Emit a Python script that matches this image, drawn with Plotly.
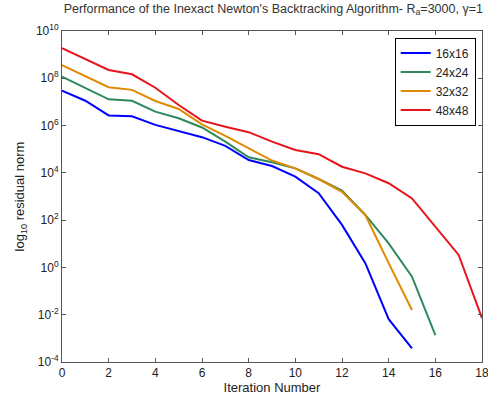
import plotly.graph_objects as go

iterations_16 = list(range(0, 16))
iterations_24 = list(range(0, 17))
iterations_32 = list(range(0, 16))
iterations_48 = list(range(0, 19))

log_res_16 = [7.48, 7.05, 6.43, 6.39, 6.03, 5.77, 5.51, 5.14, 4.54, 4.29, 3.84, 3.14, 1.80, 0.18, -2.19, -3.42]
log_res_24 = [8.07, 7.60, 7.11, 7.05, 6.59, 6.31, 5.92, 5.32, 4.66, 4.45, 4.19, 3.74, 3.25, 2.22, 1.02, -0.39, -2.86]
log_res_32 = [8.56, 8.10, 7.62, 7.51, 7.04, 6.70, 6.05, 5.56, 5.04, 4.52, 4.19, 3.74, 3.20, 2.22, 0.18, -1.80]
log_res_48 = [9.27, 8.80, 8.35, 8.17, 7.60, 6.87, 6.21, 5.95, 5.72, 5.32, 4.97, 4.79, 4.26, 3.98, 3.56, 2.92, 1.72, 0.53, -2.15]

series_names = ["16x16", "24x24", "32x32", "48x48"]
series_colors = ["#0000ff", "#2e8a5c", "#e08a00", "#e8141b"]

xtick_vals = [0, 2, 4, 6, 8, 10, 12, 14, 16, 18]
ytick_exps = [-4, -2, 0, 2, 4, 6, 8, 10]

fig = go.Figure()
for name, color, xs, ls in zip(series_names, series_colors,
                               [iterations_16, iterations_24, iterations_32, iterations_48],
                               [log_res_16, log_res_24, log_res_32, log_res_48]):
    fig.add_trace(go.Scatter(x=xs, y=[10 ** v for v in ls], mode="lines", name=name,
                             line=dict(color=color, width=2), cliponaxis=True))

font = dict(family="Liberation Sans, Arial, sans-serif", size=11, color="#222222")
fig.update_layout(
    width=488, height=402,
    margin=dict(l=62, r=6, t=31, b=40, autoexpand=False),
    paper_bgcolor="white", plot_bgcolor="white",
    font=font,
    title=dict(text="Performance of the Inexact Newton's Backtracking Algorithm- R<sub>a</sub>=3000, γ=1",
               x=0.56, xanchor="center", y=0.99, yanchor="top", font=dict(size=12.5, color="#333333")),
    legend=dict(x=0.985, y=0.98, xanchor="right", yanchor="top", bgcolor="white",
                bordercolor="black", borderwidth=1, font=dict(size=12),
                tracegroupgap=0, itemwidth=30),
    showlegend=True,
)
fig.update_xaxes(range=[0, 18], tickvals=xtick_vals, ticktext=[str(v) for v in xtick_vals],
                 ticks="inside", ticklen=4, ticklabeloverflow="allow", automargin=False,
                 showline=True, linecolor="#555555", linewidth=1, mirror="ticks",
                 showgrid=False, zeroline=False, tickcolor="#555555",
                 tickfont=dict(size=12),
                 title=dict(text="Iteration Number", standoff=2, font=dict(size=13)))
fig.update_yaxes(type="log", range=[-4, 10],
                 tickvals=[10 ** e for e in ytick_exps],
                 ticktext=["10<sup>%d</sup>" % e for e in ytick_exps],
                 ticks="inside", ticklen=4, ticklabeloverflow="allow", automargin=False,
                 showline=True, linecolor="#555555", linewidth=1, mirror="ticks",
                 showgrid=False, zeroline=False, tickcolor="#555555",
                 tickfont=dict(size=12),
                 title=dict(text="log<sub>10</sub> residual norm", standoff=8, font=dict(size=13)))

fig.write_html("out.html")
